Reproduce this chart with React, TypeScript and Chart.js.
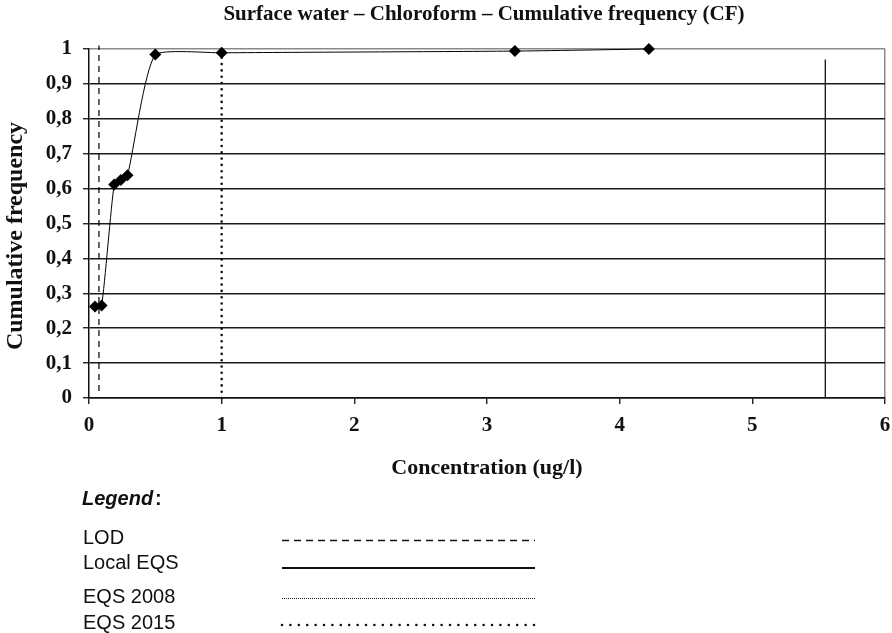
import React, { useEffect, useRef } from 'react';
import { Chart, registerables } from 'chart.js';

Chart.register(...registerables);

// ---- data ----
const cfX = [0.045, 0.095, 0.19, 0.24, 0.29, 0.5, 1.0, 3.21, 4.22];
const cfY = [0.262, 0.265, 0.612, 0.625, 0.638, 0.984, 0.989, 0.994, 1.0];

const lodX = 0.075;
const lodRange = [0.02, 1.01];
const eqs2015X = 1;
const eqs2015Range = [0, 0.99];
const localEqsX = 5.55;
const localEqsRange = [0, 0.97];

const xTickValues = [0, 1, 2, 3, 4, 5, 6];
const yTickLabels = ['0', '0,1', '0,2', '0,3', '0,4', '0,5', '0,6', '0,7', '0,8', '0,9', '1'];

const titleText = 'Surface water \u2013 Chloroform \u2013 Cumulative frequency (CF)';
const xTitleText = 'Concentration (ug/l)';
const yTitleText = 'Cumulative frequency';
const legendTitle = 'Legend';
const legendLabels = ['LOD', 'Local EQS', 'EQS 2008', 'EQS 2015'];

const SERIF = '"Liberation Serif", "Times New Roman", serif';
const SANS = '"Liberation Sans", Arial, sans-serif';

const textPlugin = {
  id: 'extraText',
  afterDraw(chart: any) {
    const ctx = chart.ctx as CanvasRenderingContext2D;
    const area = chart.chartArea;
    ctx.save();
    ctx.fillStyle = '#111';
    ctx.textAlign = 'center';
    ctx.textBaseline = 'middle';
    ctx.font = `bold 21px ${SERIF}`;
    ctx.fillText(titleText, 484, 15);
    ctx.font = `bold 22px ${SERIF}`;
    ctx.fillText(xTitleText, (area.left + area.right) / 2, 468);
    ctx.save();
    ctx.translate(16, 236);
    ctx.rotate(-Math.PI / 2);
    ctx.font = `bold 24px ${SERIF}`;
    ctx.fillText(yTitleText, 0, 0);
    ctx.restore();

    // legend
    ctx.textAlign = 'left';
    ctx.font = `bold italic 20px ${SANS}`;
    ctx.fillText(legendTitle, 82, 499);
    const w = ctx.measureText(legendTitle).width;
    ctx.font = `bold 20px ${SANS}`;
    ctx.fillText(':', 82 + w + 2, 499);

    ctx.font = `20px ${SANS}`;
    const textY = [538, 563, 597, 623];
    const lineY = [540.5, 568, 598.5, 625];
    const x0 = 282;
    const x1 = 535;
    legendLabels.forEach((lab, i) => {
      ctx.fillStyle = '#111';
      ctx.fillText(lab, 83, textY[i]);
      ctx.beginPath();
      ctx.strokeStyle = '#111';
      if (i === 0) {
        ctx.setLineDash([7, 5]);
        ctx.lineWidth = 1.3;
        ctx.lineCap = 'butt';
      } else if (i === 1) {
        ctx.setLineDash([]);
        ctx.lineWidth = 1.8;
        ctx.lineCap = 'butt';
      } else if (i === 2) {
        ctx.setLineDash([1, 1]);
        ctx.lineWidth = 1;
        ctx.lineCap = 'butt';
      } else {
        ctx.setLineDash([0, 8.4]);
        ctx.lineWidth = 2.6;
        ctx.lineCap = 'round';
      }
      ctx.moveTo(x0, lineY[i]);
      ctx.lineTo(x1, lineY[i]);
      ctx.stroke();
    });
    ctx.restore();
  },
};

export default function App() {
  const ref = useRef<HTMLCanvasElement | null>(null);

  useEffect(() => {
    document.body.style.margin = '0';
    const canvas = ref.current;
    if (!canvas) return;

    const chart = new Chart(canvas, {
      type: 'line',
      data: {
        datasets: [
          {
            label: 'CF',
            data: cfX.map((x, i) => ({ x, y: cfY[i] })),
            borderColor: '#000',
            borderWidth: 1,
            backgroundColor: '#000',
            pointStyle: 'rectRot',
            pointRadius: 6,
            pointBackgroundColor: '#000',
            pointBorderColor: '#000',
            pointBorderWidth: 0,
            tension: 0.18,
            order: 0,
            clip: false,
          },
          {
            label: 'LOD',
            data: lodRange.map((y) => ({ x: lodX, y })),
            borderColor: '#000',
            borderWidth: 1.2,
            borderDash: [6, 5],
            pointRadius: 0,
            order: 1,
            clip: false,
          },
          {
            label: 'EQS 2015',
            data: eqs2015Range.map((y) => ({ x: eqs2015X, y })),
            borderColor: '#111',
            borderWidth: 2.6,
            borderDash: [0, 6.3],
            borderCapStyle: 'round',
            pointRadius: 0,
            order: 1,
            clip: false,
          },
          {
            label: 'Local EQS',
            data: localEqsRange.map((y) => ({ x: localEqsX, y })),
            borderColor: '#111',
            borderWidth: 1.3,
            pointRadius: 0,
            order: 1,
            clip: false,
          },
        ],
      },
      options: {
        animation: false,
        responsive: false,
        layout: { padding: { top: 49, right: 7, left: 0, bottom: 0 } },
        plugins: {
          legend: { display: false },
          tooltip: { enabled: false },
          title: { display: false },
        },
        scales: {
          x: {
            type: 'linear',
            min: 0,
            max: 6,
            afterFit: (s: any) => {
              s.height = 235;
              s.paddingLeft = 0;
              s.paddingRight = 0;
            },
            afterBuildTicks: (s: any) => {
              s.ticks = xTickValues.map((v) => ({ value: v }));
            },
            ticks: {
              color: '#111',
              font: { family: SERIF, size: 21, weight: 'bold' },
              padding: 9,
              maxRotation: 0,
              callback: (v: any) => String(v),
            },
            grid: {
              drawOnChartArea: true,
              color: (c: any) => (c.tick && c.tick.value === 6 ? '#8a8a8a' : 'rgba(0,0,0,0)'),
              lineWidth: 1.5,
              tickColor: '#111',
              tickLength: 6,
              tickWidth: 1.3,
            },
            border: { color: '#111', width: 1.5 },
          },
          y: {
            type: 'linear',
            min: 0,
            max: 1,
            afterFit: (s: any) => {
              s.width = 89;
              s.paddingTop = 0;
              s.paddingBottom = 0;
            },
            ticks: {
              stepSize: 0.1,
              color: '#111',
              font: { family: SERIF, size: 21, weight: 'bold' },
              padding: 11,
              callback: (_v: any, i: number) => yTickLabels[i],
            },
            grid: {
              color: (c: any) => (c.tick && c.tick.value >= 0.999 ? '#8a8a8a' : '#1a1a1a'),
              lineWidth: 1.5,
              tickColor: '#111',
              tickLength: 6,
              tickWidth: 1.3,
            },
            border: { color: '#111', width: 1.5 },
          },
        },
      },
      plugins: [textPlugin],
    } as any);

    return () => chart.destroy();
  }, []);

  return (
    <div style={{ position: 'absolute', left: 0, top: 0, width: 892, height: 633, background: '#fff' }}>
      <canvas ref={ref} width={892} height={633} />
    </div>
  );
}
